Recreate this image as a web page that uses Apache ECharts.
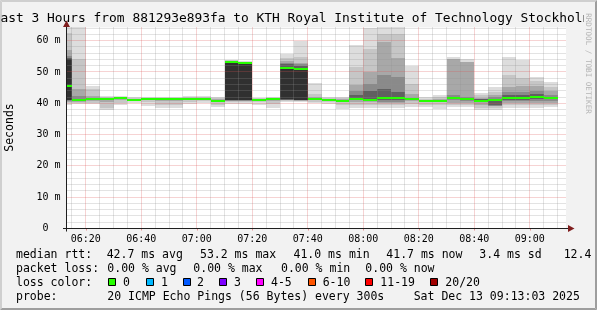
<!DOCTYPE html>
<html><head><meta charset="utf-8">
<script src="https://cdn.jsdelivr.net/npm/echarts@6/dist/echarts.min.js"></script>
<style>html,body{margin:0;padding:0;background:#f2f2f2;overflow:hidden}#c{width:597px;height:310px}</style>
</head><body><div id="c"></div>
<script>
// ---------------- data ----------------
const startTime = '06:13:03';
const endTime = '09:13:03';
const stepMin = 5;
const barEnd = ['06:15','06:20','06:25','06:30','06:35','06:40','06:45','06:50','06:55',
  '07:00','07:05','07:10','07:15','07:20','07:25','07:30','07:35','07:40','07:45','07:50','07:55',
  '08:00','08:05','08:10','08:15','08:20','08:25','08:30','08:35','08:40','08:45','08:50','08:55',
  '09:00','09:05','09:10'];
const medianMs = [45.6,41.0,41.3,41.3,41.6,41.2,41.3,41.3,41.3,41.3, 41.3,40.8,53.2,53.0,41.2,41.3,51.4,50.9,41.3,41.2,
  40.8,41.3,41.2,41.6,41.6,41.4,40.8,40.8,41.6,41.3, 40.7,40.9,41.6,41.7,42.1,41.7];
// smoke bands (outer -> inner), ms
const lo1 = [39.3,39.8,39.7,37.8,39.5,40.2,39.0,38.5,38.5,39.7, 40.0,38.7,39.7,39.7,39.3,38.6,40.5,40.3,40.0,39.7, 38.2,38.5,38.5,38.5,38.5,38.8,38.7,38.3,38.8,38.7, 37.8,37.8,38.6,38.6,38.6,38.7];
const hi1 = [66.0,66.0,45.5,42.3,42.2,41.9,41.9,42.0,42.0,42.2, 42.2,41.9,53.9,53.5,41.8,41.9,55.8,59.8,46.4,41.9, 42.0,58.5,63.9,66.0,66.0,52.0,41.9,42.5,54.9,54.0, 43.3,45.2,54.7,53.8,48.5,46.7];
const lo2 = [40.0,40.2,40.2,38.6,40.2,40.7,40.4,39.5,39.5,40.4, 40.6,39.5,40.3,40.3,40.3,39.8,40.8,40.6,40.5,40.5, 39.5,39.5,39.5,39.5,39.3,39.8,39.5,39.5,39.5,39.5, 38.5,38.5,39.3,39.3,39.3,39.3];
const hi2 = [62.3,54.0,44.5,42.0,42.0,41.6,41.7,41.8,41.8,41.9, 41.9,41.7,53.7,53.3,41.6,41.7,54.5,54.7,43.0,41.7, 41.8,51.5,57.3,62.2,62.1,46.0,41.5,42.0,54.2,53.3, 42.5,43.5,49.0,48.0,47.2,45.2];
const lo3 = [40.4,40.5,40.7,40.5,41.0,null,null,40.8,40.8,41.0, 41.0,40.3,40.6,40.6,40.9,40.8,41.0,40.8,40.9,40.9, 40.3,40.5,40.3,40.0,40.0,40.7,40.3,40.3,40.0,40.2, 39.5,39.3,40.0,40.0,40.0,40.0];
const hi3 = [57.0,44.7,42.2,41.8,41.8,null,null,41.6,41.6,41.6, 41.6,41.4,53.5,53.2,41.5,41.5,53.5,53.0,42.0,41.5, 41.5,45.7,50.0,59.6,54.6,43.0,41.2,41.5,54.0,53.2, 41.8,42.5,45.2,45.5,45.5,43.8];
const lo4 = [40.7,40.7,41.0,41.0,null,null,null,null,null,null, null,40.6,40.8,40.8,null,null,41.1,41.0,null,null, 40.6,40.9,40.7,40.5,40.5,41.0,null,null,41.0,40.8, null,39.0,40.7,40.8,40.8,40.8];
const hi4 = [55.0,42.2,41.8,41.6,null,null,null,null,null,null, null,41.1,53.4,53.1,null,null,53.0,52.5,null,null, 41.2,44.0,46.0,48.9,48.3,41.8,null,null,42.5,42.0, null,42.0,43.6,43.5,44.0,42.5];
const lo5 = [41.0,null,null,null,null,null,null,null,null,null, null,null,40.9,40.9,null,null,41.2,41.1,null,null, null,41.1,41.0,41.0,41.0,null,40.6,null,null,null, 40.3,39.5,41.0,41.1,41.3,null];
const hi5 = [54.6,null,null,null,null,null,null,null,null,null, null,null,53.3,53.0,null,null,52.5,52.0,null,null, null,42.5,44.0,44.5,43.5,null,41.0,null,null,null, 41.3,40.6,42.5,42.6,43.0,null];
const lo6 = [41.2,null,null,null,null,null,null,null,null,null, null,null,41.0,41.1,null,null,41.3,41.2,null,null, null,null,null,null,null,null,null,null,null,null, null,null,null,null,null,null];
const hi6 = [54.2,null,null,null,null,null,null,null,null,null, null,null,53.2,52.9,null,null,51.4,50.9,null,null, null,null,null,null,null,null,null,null,null,null, null,null,null,null,null,null];
const xTickLabels = ['06:20','06:40','07:00','07:20','07:40','08:00','08:20','08:40','09:00'];
const yTickValues = [0,10,20,30,40,50,60];
const yTickLabels = ['0  ','10 m','20 m','30 m','40 m','50 m','60 m'];
const yMax = 64.2;

// ---------------- helpers ----------------
const toMin = s => { const p = s.split(':').map(Number); return (p[0]-6)*60 + p[1] + (p[2]||0)/60; };
const xMin = toMin(startTime), xMax = toMin(endTime);
const xMajorVals = xTickLabels.map(toMin);
const MONO = 'DejaVu Sans Mono';
const smokeColors = ['#dddddd','#c6c6c6','#a8a8a8','#8a8a8a','#606060','#303030'];
const bandLo = [lo1,lo2,lo3,lo4,lo5,lo6], bandHi = [hi1,hi2,hi3,hi4,hi5,hi6];

const smokeData = [], medianData = [];
barEnd.forEach((e, i) => {
  const t1 = toMin(e), t0 = t1 - stepMin;
  for (let k = 0; k < bandLo.length; k++) {
    const lo = bandLo[k][i], hi = bandHi[k][i];
    if (lo != null && hi != null) smokeData.push([t0, t1, lo, hi, k]);
  }
  medianData.push([t0, t1, medianMs[i]]);
});

// grid line values
const gridData = [];
for (let t = Math.ceil(xMin/5)*5; t <= xMax; t += 5) {
  const major = xMajorVals.some(v => Math.abs(v - t) < 1e-6);
  gridData.push([t, 0, major ? 1 : 0]);
}
for (let v = 2; v <= yMax; v += 2) gridData.push([v, 1, v % 10 === 0 ? 1 : 0]);
gridData.sort((a, b) => a[2] - b[2]);

function plotBox(cs) {
  return { l: Math.round(cs.x - 0.5), r: Math.round(cs.x + cs.width), t: Math.floor(cs.y), b: Math.round(cs.y + cs.height - 0.5) };
}
function renderSmoke(params, api) {
  const cs = params.coordSys, B = plotBox(cs);
  const a = api.coord([api.value(0), api.value(3)]);
  const b = api.coord([api.value(1), api.value(2)]);
  let x0 = Math.max(Math.round(a[0]), B.l), x1 = Math.min(Math.round(b[0]), B.r);
  let y0 = Math.max(Math.round(a[1]), B.t), y1 = Math.min(Math.round(b[1]), B.b);
  if (x1 <= x0 || y1 <= y0) return null;
  return { type: 'rect', shape: { x: x0, y: y0, width: x1 - x0, height: y1 - y0 }, style: { fill: smokeColors[api.value(4)] } };
}
function renderMedian(params, api) {
  const cs = params.coordSys, B = plotBox(cs);
  const a = api.coord([api.value(0), api.value(2)]);
  const b = api.coord([api.value(1), api.value(2)]);
  const x0 = Math.max(Math.round(a[0]), B.l), x1 = Math.min(Math.round(b[0]), B.r);
  const y = Math.round(a[1]);
  return { type: 'rect', shape: { x: x0, y: y - 1, width: x1 - x0, height: 2 }, style: { fill: '#26ff00' } };
}
function renderGrid(params, api) {
  const cs = params.coordSys;
  const v = api.value(0), dir = api.value(1), major = api.value(2);
  const style = { stroke: major ? 'rgba(222,79,79,0.5)' : 'rgba(143,143,143,0.5)', lineWidth: 1, lineDash: [1, 1], fill: null };
  if (dir === 0) {
    const x = Math.round(api.coord([v, 0])[0] - 0.5) + 0.5;
    return { type: 'line', shape: { x1: x, y1: cs.y, x2: x, y2: cs.y + cs.height }, style };
  }
  const y = Math.round(api.coord([xMin, v])[1] - 0.5) + 0.5;
  return { type: 'line', shape: { x1: cs.x, y1: y, x2: cs.x + cs.width, y2: y }, style };
}

// ---------------- decorations ----------------
const G = { left: 66.5, right: 31, top: 27.5, bottom: 81.5 };
const W = 597, H = 310;
const axisX = H - G.bottom, axisYx = G.left;
const gfx = [];
// bevel
gfx.push({ type: 'polygon', shape: { points: [[0,0],[W,0],[W-2,2],[2,2]] }, style: { fill: '#cfcfcf' }, z: 1 });
gfx.push({ type: 'polygon', shape: { points: [[0,0],[2,2],[2,H-2],[0,H]] }, style: { fill: '#cfcfcf' }, z: 1 });
gfx.push({ type: 'polygon', shape: { points: [[0,H],[W,H],[W-2,H-2],[2,H-2]] }, style: { fill: '#9e9e9e' }, z: 1 });
gfx.push({ type: 'polygon', shape: { points: [[W,0],[W,H],[W-2,H-2],[W-2,2]] }, style: { fill: '#9e9e9e' }, z: 1 });
// title
gfx.push({ type: 'text', x: -7.3, y: 18.9, z: 1, style: { text: 'Last 3 Hours from 881293e893fa to KTH Royal Institute of Technology Stockholm', font: '12.9px ' + MONO, fill: '#000', align: 'left', verticalAlign: 'middle' } });
gfx.push({ type: 'rect', shape: { x: 583.5, y: 2, width: W-2-583.5, height: 24 }, style: { fill: '#f2f2f2' }, z: 2 });
gfx.push({ type: 'text', x: 588.3, y: 63.5, rotation: -Math.PI/2, z: 3, style: { text: 'RRDTOOL / TOBI OETIKER', font: '7.6px ' + MONO, fill: '#b5b5b5', align: 'center', verticalAlign: 'middle' } });
// y unit
gfx.push({ type: 'text', x: 10.5, y: 127.5, rotation: Math.PI/2, z: 3, style: { text: 'Seconds', font: '11.5px ' + MONO, fill: '#000', align: 'center', verticalAlign: 'middle' } });
// axes lines + arrows
gfx.push({ type: 'line', shape: { x1: 63, y1: axisX, x2: 569, y2: axisX }, style: { stroke: '#1f1f1f', lineWidth: 1 }, z: 20 });
gfx.push({ type: 'line', shape: { x1: axisYx, y1: axisX + 3, x2: axisYx, y2: 24 }, style: { stroke: '#1f1f1f', lineWidth: 1 }, z: 20 });
gfx.push({ type: 'polygon', shape: { points: [[568, axisX-3.5],[574.5, axisX],[568, axisX+3.5]] }, style: { fill: '#801f1f' }, z: 21 });
gfx.push({ type: 'polygon', shape: { points: [[axisYx-3.5, 27],[axisYx, 20.5],[axisYx+3.5, 27]] }, style: { fill: '#801f1f' }, z: 21 });
// legend text
const LF = '11.5px ' + MONO;
const legendRows = [
  [254.8, [[16,'median rtt:'],[106.7,'42.7 ms avg'],[200,'53.2 ms max'],[293.5,'41.0 ms min'],[386.3,'41.7 ms now'],[479.3,'3.4 ms sd'],[563.7,'12.4 am/s']]],
  [269.0, [[16,'packet loss:'],[107.3,'0.00 % avg'],[193.3,'0.00 % max'],[281,'0.00 % min'],[365.3,'0.00 % now']]],
  [283.2, [[16,'loss color:']]],
  [297.0, [[16,'probe:'],[107.3,'20 ICMP Echo Pings (56 Bytes) every 300s'],[413.7,'Sat Dec 13 09:13:03 2025']]]
];
legendRows.forEach(([y, items]) => items.forEach(([x, t]) => gfx.push({ type: 'text', x, y, z: 3, style: { text: t, font: LF, fill: '#000', align: 'left', verticalAlign: 'middle' } })));
const lossSwatches = [[108,'#26ff00','0',123],[146,'#00b8ff','1',161],[183,'#0059ff','2',197],[219,'#7e00ff','3',234],
  [256,'#ff00ff','4-5',271],[308,'#ff5500','6-10',322.7],[365,'#ff0000','11-19',380.3],[430,'#a10000','20/20',445.3]];
lossSwatches.forEach(([x, c, t, tx]) => {
  gfx.push({ type: 'rect', shape: { x: x + 0.5, y: 278.5, width: 7, height: 7 }, style: { fill: c, stroke: '#000', lineWidth: 1 }, z: 3 });
  gfx.push({ type: 'text', x: tx, y: 283.2, z: 3, style: { text: t, font: LF, fill: '#000', align: 'left', verticalAlign: 'middle' } });
});

// ---------------- chart ----------------
const chart = echarts.init(document.getElementById('c'), null, { renderer: 'canvas', width: W, height: H });
chart.setOption({
  animation: false,
  backgroundColor: '#f2f2f2',
  grid: { left: G.left, right: G.right, top: G.top, bottom: G.bottom, show: true, backgroundColor: '#ffffff', borderWidth: 0 },
  xAxis: {
    type: 'value', min: xMin, max: xMax, z: 10,
    axisLine: { show: false },
    axisTick: { show: true, customValues: xMajorVals, length: 2, lineStyle: { color: 'rgba(222,79,79,0.6)', width: 1 } },
    axisLabel: { customValues: xMajorVals, formatter: v => xTickLabels[xMajorVals.findIndex(m => Math.abs(m - v) < 1e-6)] || '',
      fontFamily: MONO, fontSize: 10, color: '#000', margin: 6 },
    splitLine: { show: false }
  },
  yAxis: {
    type: 'value', min: 0, max: yMax, z: 10,
    axisLine: { show: false }, axisTick: { show: false },
    axisLabel: { customValues: yTickValues, formatter: v => yTickLabels[yTickValues.indexOf(Math.round(v))] || '',
      fontFamily: MONO, fontSize: 10, color: '#000', margin: 6 },
    splitLine: { show: false }
  },
  series: [
    { type: 'custom', name: 'smoke', renderItem: renderSmoke, data: smokeData, encode: { x: [0, 1], y: [2, 3] }, z: 2, silent: true },
    { type: 'custom', name: 'grid', renderItem: renderGrid, data: gridData, encode: { x: 0, y: 1 }, z: 3, silent: true },
    { type: 'custom', name: 'median', renderItem: renderMedian, data: medianData, encode: { x: [0, 1], y: 2 }, z: 4, silent: true }
  ],
  graphic: { elements: gfx }
});
</script>
</body></html>
